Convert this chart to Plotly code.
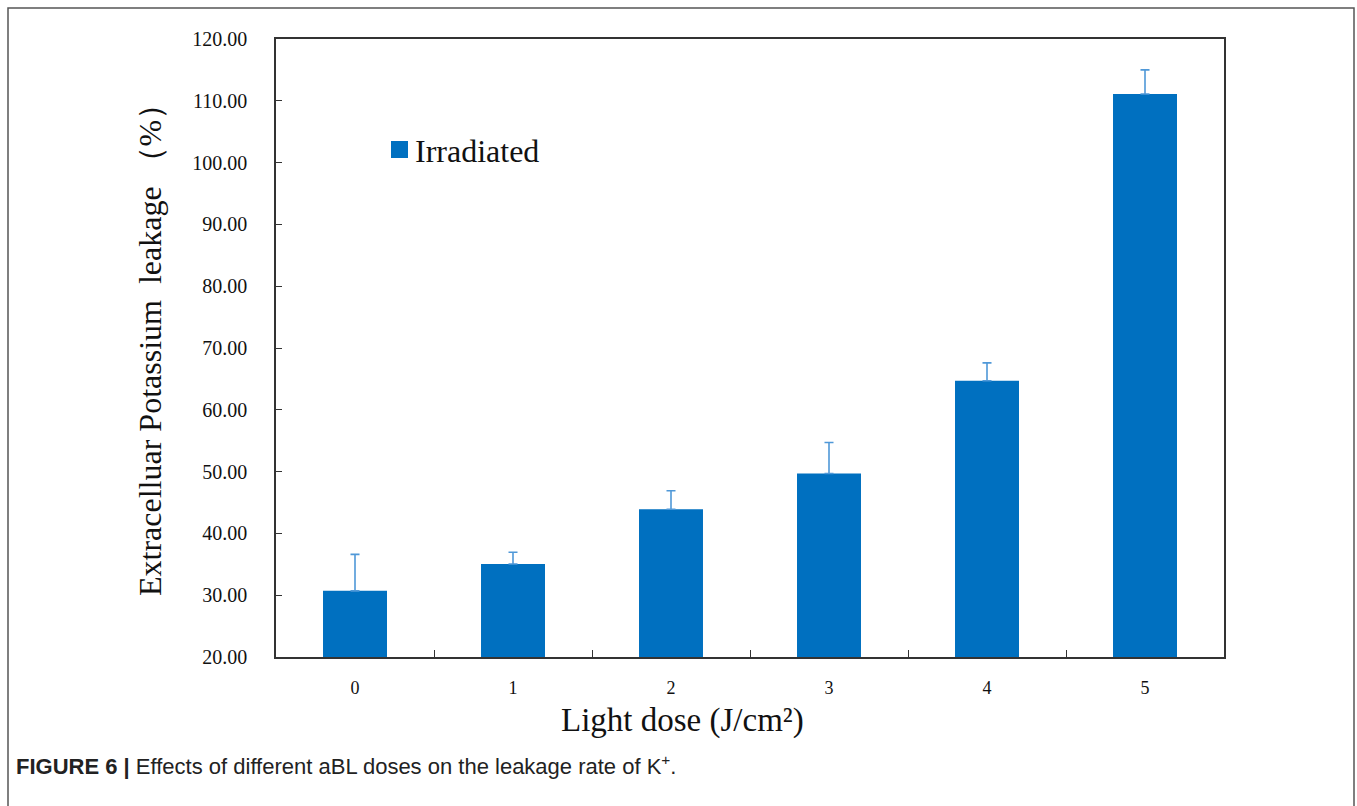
import plotly.graph_objects as go

# ---- data ----
doses = ["0", "1", "2", "3", "4", "5"]
leakage = [30.7, 35.05, 43.9, 49.7, 64.7, 111.1]
err_up = [5.9, 1.9, 3.0, 5.0, 2.9, 3.9]
y_ticks = [20, 30, 40, 50, 60, 70, 80, 90, 100, 110, 120]
y_tick_labels = ["%.2f" % v for v in y_ticks]

W, H = 1357, 806
L, R, T, B = 276, 1224, 39, 657  # plot area in pixels


def px(x):
    return (x - L) / (R - L)


def py(y):
    return (B - y) / (B - T)


SERIF = "Liberation Serif, Times New Roman, serif"
BLUE = "#0070C0"

fig = go.Figure()
fig.add_trace(go.Bar(
    x=doses, y=leakage, name="Irradiated",
    marker=dict(color=BLUE, line=dict(width=0)),
    width=0.405,
    error_y=dict(type="data", symmetric=False, array=err_up,
                 arrayminus=[0] * len(err_up),
                 color="#4F98D8", thickness=1.6, width=4.5),
    showlegend=False,
))

fig.update_layout(
    width=W, height=H,
    margin=dict(l=L, r=W - R, t=T, b=H - B),
    paper_bgcolor="white", plot_bgcolor="white",
    xaxis=dict(
        type="category", tickson="boundaries", ticks="inside", ticklen=7,
        tickwidth=1.2, tickcolor="#333",
        showline=True, linecolor="#333", linewidth=1.5, mirror=True,
        showgrid=False, zeroline=False,
        tickfont=dict(family=SERIF, size=18, color="#111"),
        ticklabelstandoff=14,
    ),
    yaxis=dict(
        range=[20, 120], tickvals=y_ticks, ticktext=y_tick_labels,
        ticks="inside", ticklen=6, tickwidth=1.2, tickcolor="#333",
        showline=True, linecolor="#333", linewidth=1.5, mirror=True,
        showgrid=False, zeroline=False,
        tickfont=dict(family=SERIF, size=20, color="#111"),
        ticklabelstandoff=23,
    ),
    font=dict(family=SERIF, color="#111"),
    shapes=[
        # outer frame
        dict(type="rect", xref="paper", yref="paper",
             x0=px(8), x1=px(1354), y0=py(812), y1=py(8),
             line=dict(color="#555", width=1.5), fillcolor="rgba(0,0,0,0)",
             layer="below"),
        # legend swatch
        dict(type="rect", xref="paper", yref="paper",
             x0=px(391), x1=px(408), y0=py(158), y1=py(141),
             line=dict(width=0), fillcolor=BLUE),
    ],
    annotations=[
        dict(text="Irradiated", xref="paper", yref="paper",
             x=px(413), y=py(151), xanchor="left", yanchor="middle",
             showarrow=False, font=dict(family=SERIF, size=32, color="#111")),
        dict(text="Extracelluar Potassium  leakage （%）", xref="paper", yref="paper",
             x=px(150), y=py(342), xanchor="center", yanchor="middle",
             textangle=-90, showarrow=False,
             font=dict(family=SERIF, size=32, color="#111")),
        dict(text="Light dose (J/cm²)", xref="paper", yref="paper",
             x=px(682), y=py(720), xanchor="center", yanchor="middle",
             showarrow=False, font=dict(family=SERIF, size=33, color="#111")),
        dict(text="<b>FIGURE 6 |</b> Effects of different aBL doses on the leakage rate of K<sup>+</sup>.",
             xref="paper", yref="paper",
             x=px(14), y=py(765), xanchor="left", yanchor="middle",
             showarrow=False,
             font=dict(family="Liberation Sans, Arial, sans-serif",
                       size=22, color="#222")),
    ],
)

fig.write_html("out.html",
               config={"displayModeBar": False},
               post_script="document.body.style.margin='0';document.body.style.overflow='hidden';")
